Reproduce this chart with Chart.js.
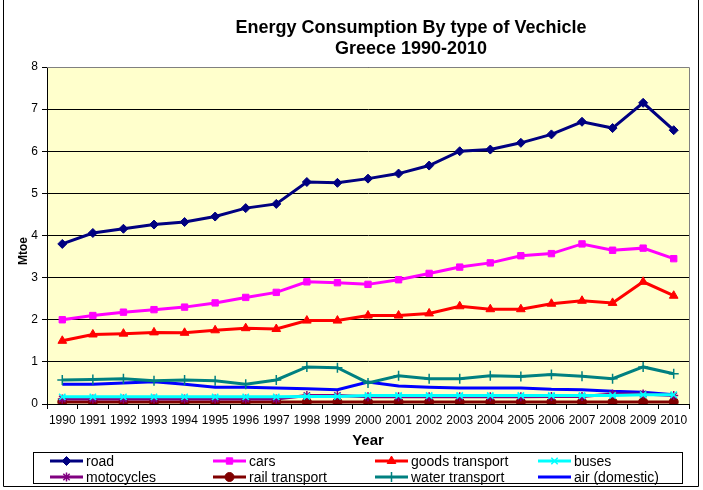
<!DOCTYPE html>
<html>
<head>
<meta charset="utf-8">
<script src="https://cdn.jsdelivr.net/npm/chart.js@4/dist/chart.umd.min.js"></script>
<style>
  html, body { margin: 0; padding: 0; background: #fff; }
  canvas { display: block; }
</style>
</head>
<body>
<canvas id="grafico" width="703" height="490"></canvas>
<script>
// dados (Mtoe)
var anos = ['1990','1991','1992','1993','1994','1995','1996','1997','1998','1999','2000',
            '2001','2002','2003','2004','2005','2006','2007','2008','2009','2010'];

var road = [3.8, 4.06, 4.16, 4.26, 4.32, 4.45, 4.65, 4.75, 5.27, 5.25, 5.35,
            5.47, 5.66, 6.0, 6.04, 6.2, 6.4, 6.7, 6.55, 7.15, 6.5];
var cars = [2.0, 2.1, 2.18, 2.24, 2.3, 2.4, 2.53, 2.65, 2.9, 2.88, 2.84,
            2.95, 3.1, 3.25, 3.35, 3.52, 3.57, 3.8, 3.65, 3.7, 3.45];
var goods = [1.5, 1.65, 1.67, 1.7, 1.69, 1.75, 1.8, 1.78, 1.98, 1.98, 2.1,
             2.1, 2.15, 2.32, 2.25, 2.25, 2.38, 2.45, 2.4, 2.9, 2.57];
var buses = [0.17, 0.17, 0.17, 0.17, 0.17, 0.17, 0.17, 0.17, 0.18, 0.18, 0.2,
             0.2, 0.2, 0.2, 0.2, 0.2, 0.2, 0.2, 0.2, 0.22, 0.22];
var motocycles = [0.12, 0.12, 0.12, 0.12, 0.12, 0.12, 0.12, 0.12, 0.2, 0.2, 0.17,
                  0.17, 0.17, 0.17, 0.17, 0.17, 0.18, 0.18, 0.24, 0.24, 0.2];
var rail = [0.05, 0.05, 0.05, 0.05, 0.05, 0.05, 0.05, 0.05, 0.05, 0.05, 0.05,
            0.05, 0.05, 0.05, 0.05, 0.05, 0.05, 0.05, 0.05, 0.05, 0.05];
var water = [0.57, 0.58, 0.6, 0.55, 0.57, 0.55, 0.47, 0.57, 0.88, 0.86, 0.5,
             0.67, 0.6, 0.6, 0.67, 0.65, 0.7, 0.66, 0.6, 0.88, 0.72];
var air = [0.47, 0.47, 0.5, 0.53, 0.47, 0.4, 0.4, 0.38, 0.36, 0.34, 0.52,
           0.43, 0.4, 0.38, 0.38, 0.38, 0.35, 0.34, 0.3, 0.28, 0.22];

var yTicks = [0, 1, 2, 3, 4, 5, 6, 7, 8];
var titulo = ['Energy Consumption By type of Vechicle', 'Greece 1990-2010'];
var tituloY = 'Mtoe';

var fonte = 'Arial, "Liberation Sans", sans-serif';

function serie(label, data, cor, estilo, raio) {
    return {
        label: label,
        data: data,
        borderColor: cor,
        backgroundColor: cor,
        borderWidth: 3,
        pointStyle: estilo,
        pointRadius: raio,
        pointBorderWidth: (estilo == 'cross' || estilo == 'crossRot' || estilo == 'star') ? 1.5 : 1,
        pointBorderColor: cor,
        pointBackgroundColor: cor,
        tension: 0
    };
}

// fundo amarelo, bordas da area do grafico e titulos
var fundoPlugin = {
    id: 'fundo',
    beforeDraw: function(chart) {
        var ctx = chart.ctx, a = chart.chartArea;
        ctx.save();
        ctx.fillStyle = '#FFFFCC';
        ctx.fillRect(a.left, a.top, a.right - a.left, a.bottom - a.top);
        ctx.restore();
    },
    afterDraw: function(chart) {
        var ctx = chart.ctx, a = chart.chartArea;
        ctx.save();
        ctx.strokeStyle = '#808080';
        ctx.lineWidth = 1;
        ctx.beginPath();
        ctx.moveTo(a.left, a.top + 0.5);
        ctx.lineTo(a.right + 0.5, a.top + 0.5);
        ctx.lineTo(a.right + 0.5, a.bottom);
        ctx.stroke();
        // moldura externa
        ctx.strokeStyle = '#000';
        ctx.beginPath();
        ctx.moveTo(3.5, 0);
        ctx.lineTo(3.5, 486.5);
        ctx.lineTo(698.5, 486.5);
        ctx.lineTo(698.5, 0);
        ctx.stroke();
        // titulo em duas linhas
        ctx.fillStyle = '#000';
        ctx.font = 'bold 18px ' + fonte;
        ctx.textAlign = 'center';
        ctx.textBaseline = 'middle';
        ctx.fillText(titulo[0], 411, 28);
        ctx.fillText(titulo[1], 411, 49);
        // titulo do eixo y
        ctx.font = 'bold 12px ' + fonte;
        ctx.translate(24, 251);
        ctx.rotate(-Math.PI / 2);
        ctx.fillText(tituloY, 0, 0);
        ctx.restore();
    }
};

// legenda em grade de 4 colunas, com caixa
var legendaPlugin = {
    id: 'legendaGrade',
    afterDraw: function(chart) {
        var ctx = chart.ctx;
        var colX = [50, 213, 375, 538];
        var rowY = [461, 477];
        ctx.save();
        ctx.strokeStyle = '#000';
        ctx.lineWidth = 1;
        ctx.strokeRect(33.5, 452.5, 649, 31);
        ctx.font = '14px ' + fonte;
        ctx.textBaseline = 'middle';
        ctx.textAlign = 'left';
        chart.data.datasets.forEach(function(ds, i) {
            var x = colX[i % 4], y = rowY[Math.floor(i / 4)];
            ctx.strokeStyle = ds.borderColor;
            ctx.lineWidth = 3;
            ctx.beginPath();
            ctx.moveTo(x, y);
            ctx.lineTo(x + 33, y);
            ctx.stroke();
            if (ds.pointRadius > 0) {
                ctx.fillStyle = ds.borderColor;
                ctx.strokeStyle = ds.borderColor;
                ctx.lineWidth = ds.pointBorderWidth;
                Chart.helpers.drawPoint(ctx, {pointStyle: ds.pointStyle, radius: ds.pointRadius, borderWidth: ds.pointBorderWidth, rotation: 0}, x + 16.5, y);
            }
            ctx.fillStyle = '#000';
            ctx.fillText(ds.label, x + 36, y + 1);
        });
        ctx.restore();
    }
};

var ctx = document.getElementById('grafico').getContext('2d');
var grafico = new Chart(ctx, {
    type: 'line',
    data: {
        labels: anos,
        datasets: [
            serie('road', road, '#000080', 'rectRot', 4.5),
            serie('cars', cars, '#FF00FF', 'rect', 4.5),
            serie('goods transport', goods, '#FF0000', 'triangle', 5),
            serie('buses', buses, '#00FFFF', 'crossRot', 4.5),
            serie('motocycles', motocycles, '#800080', 'star', 4.5),
            serie('rail transport', rail, '#800000', 'circle', 4.5),
            serie('water transport', water, '#008080', 'cross', 5),
            serie('air (domestic)', air, '#0000FF', 'circle', 0)
        ]
    },
    options: {
        responsive: false,
        animation: false,
        layout: { padding: { left: 0, right: 14, top: 67, bottom: 40.6 } },
        plugins: {
            legend: { display: false },
            tooltip: { enabled: false },
            title: { display: false }
        },
        scales: {
            x: {
                offset: true,
                grid: { display: true, offset: true, drawOnChartArea: false, drawTicks: true, tickLength: 5, color: '#000' },
                border: { color: '#000', width: 1 },
                ticks: {
                    color: '#000',
                    maxRotation: 0,
                    autoSkip: false,
                    padding: 4,
                    font: { family: fonte, size: 12 }
                },
                title: {
                    display: true,
                    text: 'Year',
                    color: '#000',
                    font: { family: fonte, size: 15, weight: 'bold' },
                    padding: 0
                },
                afterFit: function(s) { s.height = 45.4; }
            },
            y: {
                min: 0,
                max: 8,
                afterBuildTicks: function(s) { s.ticks = yTicks.map(function(v) { return { value: v }; }); },
                grid: { color: '#000', lineWidth: 1, tickLength: 5 },
                border: { color: '#000', width: 1 },
                ticks: {
                    color: '#000',
                    padding: 4,
                    font: { family: fonte, size: 12 }
                },
                afterFit: function(s) { s.width = 47; }
            }
        }
    },
    plugins: [fundoPlugin, legendaPlugin]
});
</script>
</body>
</html>
